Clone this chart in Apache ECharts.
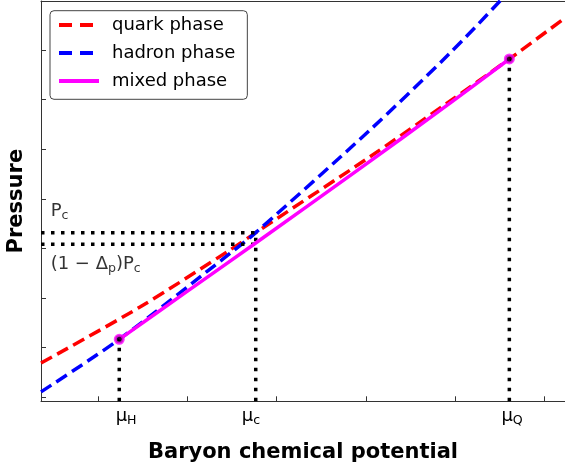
<!DOCTYPE html>
<html>
<head>
<meta charset="utf-8">
<script src="https://cdn.jsdelivr.net/npm/echarts@6/dist/echarts.min.js"></script>
<style>
html,body{margin:0;padding:0;background:#fff;}
#chart{width:565px;height:469px;}
</style>
</head>
<body>
<div id="chart"></div>
<script>
// ---- data ----
const quarkMu = [0.358, 1.467, 2.476, 2.765, 4.046, 4.909, 5.608, 6.232];
const quarkP  = [0.69, 1.82, 2.97, 3.32, 4.85, 5.93, 6.82, 7.65];
const hadronMu = [0.358, 1.235, 2.476, 2.765, 4.046, 4.943, 5.503, 5.8];
const hadronP  = [0.11, 1.17, 2.90, 3.32, 5.39, 6.94, 7.99, 8.6];
const mixedMu = [1.235, 2.0, 2.765, 3.9, 4.943, 5.608];
const mixedP  = [1.169, 2.14, 3.11, 4.57, 5.93, 6.821];
const muH = 1.235, muC = 2.765, muQ = 5.608;
const PH = 1.169, Pc = 3.319, PcLow = 3.085, PQ = 6.821;
const xTicks = [1, 2, 3, 4, 5, 6];
const yTicks = [0, 1, 2, 3, 4, 5, 6, 7];
const xLabelPos = [1.312, 2.712, 5.639];
const xLabelSub = ['H', 'c', 'Q'];
const annotPos = [[0.466, 3.75], [0.466, 2.675]];
const annotText = ['{n|P}{s|c}', '{n|(1 − Δ}{s|p}{n|)P}{s|c}'];
const xMin = 0.3576, xMax = 6.232, yMin = -0.0806, yMax = 7.99;

const FONT = 'DejaVu Sans';
const zip = (a, b) => a.map((v, i) => [v, b[i]]);
const richSub = {
  n: {fontSize: 18, lineHeight: 22, fontFamily: FONT, color: '#000', verticalAlign: 'middle'},
  m: {fontSize: 18, lineHeight: 22, fontFamily: FONT, color: '#000', verticalAlign: 'middle'},
  s: {fontSize: 12.6, lineHeight: 12, fontFamily: FONT, color: '#000', verticalAlign: 'bottom'}
};
const dotStyle = {color: '#000', width: 3.5, type: [3.5, 6.5], cap: 'butt'};
const dotted = (pts) => ({
  type: 'line', data: pts, symbol: 'none', silent: true, z: 3,
  lineStyle: dotStyle, animation: false
});

const chart = echarts.init(document.getElementById('chart'), null, {renderer: 'canvas'});
chart.setOption({
  animation: false,
  backgroundColor: '#fff',
  textStyle: {fontFamily: FONT},
  grid: {left: 41, top: 1, right: 0, height: 400.3, containLabel: false, outerBoundsMode: 'none'},
  legend: {
    orient: 'vertical', left: 50, top: 10.7,
    padding: [5.3, 12, 9.3, 7],
    itemGap: 10, itemWidth: 40, itemHeight: 14,
    backgroundColor: '#fff', borderColor: '#444', borderWidth: 1, borderRadius: 4,
    itemStyle: {opacity: 0},
    lineStyle: {width: 4},
    textStyle: {fontSize: 18, fontFamily: FONT, color: '#000', lineHeight: 18, padding: [0, 0, 0, 8]},
    data: [
      {name: 'quark phase', lineStyle: {width: 4, type: [13, 8], cap: 'butt'}},
      {name: 'hadron phase', lineStyle: {width: 4, type: [13, 8], cap: 'butt'}},
      {name: 'mixed phase', lineStyle: {width: 4, type: 'solid'}}
    ]
  },
  xAxis: [{
    type: 'value', min: xMin, max: xMax, position: 'bottom',
    name: 'Baryon chemical potential', nameLocation: 'middle', nameGap: 41,
    nameTextStyle: {fontSize: 21, fontWeight: 'bold', fontFamily: FONT, color: '#000'},
    axisLine: {show: true, onZero: false, lineStyle: {color: '#333', width: 1}},
    axisTick: {show: true, inside: true, length: 5, customValues: xTicks, lineStyle: {color: '#333', width: 1}},
    axisLabel: {
      show: true, margin: 4, customValues: xLabelPos,
      formatter: (v) => {
        let best = 0;
        xLabelPos.forEach((p, i) => { if (Math.abs(p - v) < Math.abs(xLabelPos[best] - v)) best = i; });
        return '{m|μ}{s|' + xLabelSub[best] + '}';
      },
      rich: richSub
    },
    splitLine: {show: false}
  }, {
    type: 'value', min: 0, max: 1, position: 'top',
    axisLine: {show: true, onZero: false, lineStyle: {color: '#333', width: 1}},
    axisTick: {show: false}, axisLabel: {show: false}, splitLine: {show: false}
  }],
  yAxis: {
    type: 'value', min: yMin, max: yMax,
    name: 'Pressure', nameLocation: 'middle', nameGap: 14,
    nameTextStyle: {fontSize: 21, fontWeight: 'bold', fontFamily: FONT, color: '#000'},
    axisLine: {show: true, onZero: false, lineStyle: {color: '#333', width: 1}},
    axisTick: {show: true, inside: true, length: 5, customValues: yTicks, lineStyle: {color: '#333', width: 1}},
    axisLabel: {show: false},
    splitLine: {show: false}
  },
  series: [
    {
      name: 'quark phase', type: 'line', data: zip(quarkMu, quarkP), smooth: 0.3,
      symbol: 'none', z: 2, lineStyle: {color: '#ff0000', width: 3.5, type: [12.5, 6], cap: 'butt'},
      itemStyle: {color: '#ff0000'}
    },
    {
      name: 'hadron phase', type: 'line', data: zip(hadronMu, hadronP), smooth: 0.3,
      symbol: 'none', z: 2, lineStyle: {color: '#0000ff', width: 3.5, type: [12.5, 6], cap: 'butt'},
      itemStyle: {color: '#0000ff'}
    },
    {
      name: 'mixed phase', type: 'line', data: zip(mixedMu, mixedP), smooth: 0.3,
      symbol: 'none', z: 4, lineStyle: {color: '#ff00ff', width: 3.5},
      itemStyle: {color: '#ff00ff'}
    },
    dotted([[xMin, Pc], [muC, Pc]]),
    dotted([[xMin, PcLow], [muC, PcLow]]),
    dotted([[muH, yMin], [muH, PH]]),
    dotted([[muC, yMin], [muC, Pc]]),
    dotted([[muQ, yMin], [muQ, PQ]]),
    {
      type: 'scatter', data: [[muH, PH], [muQ, PQ]], symbol: 'circle', symbolSize: 8, z: 5,
      itemStyle: {color: '#000', borderColor: '#ff00ff', borderWidth: 3}, silent: true
    },
    {
      type: 'scatter', data: annotPos, symbolSize: 0, silent: true, z: 6,
      label: {
        show: true, position: [0, 0], align: 'left', verticalAlign: 'middle',
        formatter: (p) => annotText[p.dataIndex], rich: richSub
      }
    }
  ]
});
</script>
</body>
</html>
